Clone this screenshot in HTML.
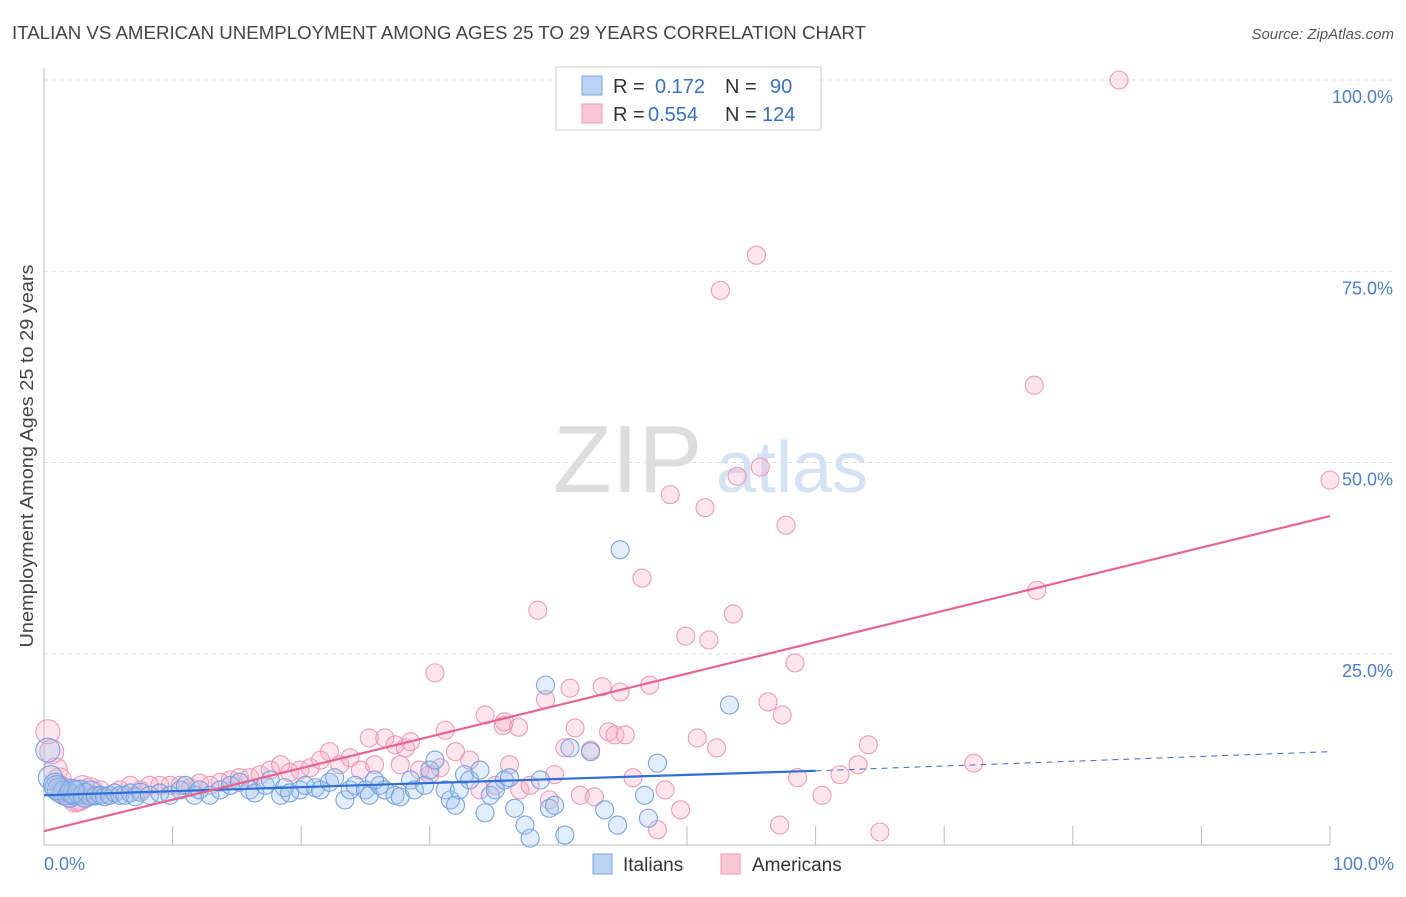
<!DOCTYPE html>
<html><head><meta charset="utf-8"><style>
body{margin:0;background:#fff;font-family:"Liberation Sans",sans-serif}
svg text{font-family:"Liberation Sans",sans-serif}
</style></head><body>
<svg id="c" width="1406" height="892" xmlns="http://www.w3.org/2000/svg">
<text x="12" y="39" font-size="18" fill="#444" textLength="854" lengthAdjust="spacingAndGlyphs">ITALIAN VS AMERICAN UNEMPLOYMENT AMONG AGES 25 TO 29 YEARS CORRELATION CHART</text>
<text x="1394" y="39" font-size="15" fill="#555" font-style="italic" text-anchor="end">Source: ZipAtlas.com</text>
<g>
<text x="553" y="492" font-size="96" fill="#ddd" font-family="Liberation Serif">ZIP</text>
<text x="716" y="492" font-size="72" fill="#d3e2f4">atlas</text>
</g>
<g id="grid"></g>
<line x1="44" y1="68" x2="44" y2="845" stroke="#bbb"/>
<line x1="44" y1="845" x2="1330" y2="845" stroke="#bbb"/>
<text x="33" y="456" font-size="18" fill="#444" text-anchor="middle" textLength="383" lengthAdjust="spacingAndGlyphs" transform="rotate(-90 33 456)">Unemployment Among Ages 25 to 29 years</text>
<text x="44" y="870" font-size="18" fill="#4a7fd4">0.0%</text>
<text x="1394" y="870" font-size="18" fill="#4a7fd4" text-anchor="end">100.0%</text>
<g id="pts"></g>
<g id="lines"></g>
<g>
<rect x="556" y="67" width="265" height="63" fill="#fff" stroke="#ccc"/>
<rect x="582" y="76" width="20" height="19" fill="#b9d3f5" stroke="#7aa5e0"/>
<text x="613" y="93" font-size="20" fill="#333">R =</text>
<text x="655" y="93" font-size="20" fill="#3570d0">0.172</text>
<text x="725" y="93" font-size="20" fill="#333">N =</text>
<text x="770" y="93" font-size="20" fill="#3570d0">90</text>
<rect x="582" y="104" width="20" height="19" fill="#f9c6d5" stroke="#e99ab3"/>
<text x="613" y="121" font-size="20" fill="#333">R =</text>
<text x="648" y="121" font-size="20" fill="#3570d0">0.554</text>
<text x="725" y="121" font-size="20" fill="#333">N =</text>
<text x="762" y="121" font-size="20" fill="#3570d0">124</text>
</g>
<g>
<rect x="593" y="854" width="19" height="20" fill="#b9d3f5" stroke="#7aa5e0"/>
<text x="623" y="871" font-size="19" fill="#333">Italians</text>
<rect x="721" y="854" width="19" height="20" fill="#f9c6d5" stroke="#e99ab3"/>
<text x="752" y="871" font-size="19" fill="#333">Americans</text>
</g>
</svg>
<script>
const yTicks=[25,50,75,100];
const yTickLabels=["25.0%","50.0%","75.0%","100.0%"];
const xTicks=[0,10,20,30,40,50,60,70,80,90,100];
const itX=[0.3,0.5,0.9,1.2,1.6,2.0,2.4,2.8,3.2,3.6,4.0,4.4,4.7,5.1,5.5,5.9,6.3,6.7,7.1,7.5,8.2,9.0,9.8,10.6,11.0,11.7,12.1,12.9,13.7,14.5,15.2,16.0,16.4,17.2,17.6,18.4,18.7,19.1,19.9,20.3,21.1,21.5,22.2,22.6,23.4,23.8,24.2,25.0,25.3,26.1,26.5,27.3,27.7,28.5,28.8,29.6,30.0,30.4,31.2,31.6,32.0,32.7,33.1,33.9,34.3,34.7,35.1,35.8,36.2,36.6,37.4,37.8,39.0,39.3,39.7,40.5,40.9,42.5,43.6,44.6,44.8,46.7,47.0,47.7,53.3,38.6,32.3,25.7,1.0,2.2];
const itY=[12.4,8.8,7.8,7.2,6.8,6.5,6.8,6.9,6.5,6.8,6.4,6.5,6.3,6.5,6.8,6.5,6.5,6.8,6.3,6.9,6.5,6.8,6.5,7.2,7.8,6.5,7.2,6.5,7.2,7.8,8.2,7.2,6.8,7.8,8.5,6.5,7.5,6.8,7.2,7.8,7.5,7.2,8.2,8.8,5.9,7.2,7.8,7.2,6.5,7.8,7.2,6.5,6.3,8.5,7.2,7.8,9.8,11.1,7.2,5.9,5.2,9.2,8.5,9.8,4.2,6.5,7.2,8.5,8.8,4.8,2.6,0.9,20.9,4.8,5.2,1.3,12.7,12.2,4.6,2.6,38.6,6.5,3.5,10.7,18.3,8.5,7.2,8.5,7.5,7.0];
const amX=[0.3,0.6,0.9,1.2,1.6,2.0,2.4,2.8,3.2,3.6,4.0,4.4,5.1,5.9,6.7,7.5,8.2,9.0,9.8,10.6,11.4,12.1,12.9,13.7,14.5,15.2,16.0,16.8,17.6,18.4,19.1,19.9,20.7,21.5,22.2,23.0,23.8,24.6,25.3,25.7,26.5,27.3,27.7,28.1,28.5,29.2,30.0,30.8,31.2,32.0,33.1,33.9,34.3,35.1,35.8,36.2,36.9,37.0,37.8,38.4,39.0,39.3,39.7,40.5,40.9,41.3,41.7,42.5,42.8,43.4,43.9,44.4,44.8,45.2,45.8,46.5,47.1,47.7,48.3,48.7,49.5,49.9,50.8,51.4,51.7,52.3,52.6,53.6,53.9,55.4,55.7,56.3,57.2,57.4,57.7,58.4,58.6,60.5,61.9,63.3,64.1,65.0,72.3,77.0,77.2,83.6,100,30.4,35.7,1.4,2.6,3.0];
const amY=[14.8,12.2,9.8,8.5,7.2,6.5,5.9,6.1,6.5,7.2,6.5,7.2,6.5,7.2,7.8,7.2,7.8,7.8,7.8,7.8,7.5,8.1,7.8,8.2,8.5,8.8,8.8,9.2,9.8,10.5,9.5,9.8,10.1,11.1,12.2,10.5,11.4,9.8,14.0,10.5,14.0,13.1,10.5,12.7,13.5,9.8,9.2,10.1,15.0,12.2,11.1,7.2,17.0,7.8,16.1,10.5,15.4,7.2,7.8,30.7,19.0,5.9,9.2,12.7,20.5,15.3,6.5,12.4,6.3,20.7,14.8,14.4,20.0,14.4,8.8,34.9,20.9,2.0,7.2,45.8,4.6,27.3,14.0,44.1,26.8,12.7,72.5,30.2,48.2,77.1,49.4,18.7,2.6,17.0,41.8,23.8,8.8,6.5,9.2,10.5,13.1,1.7,10.7,60.1,33.3,100,47.7,22.5,15.6,7.0,6.0,7.5];
const itTrend=[6.5,9.7,12.2];
const amTrend=[1.8,43.0];
const NS="http://www.w3.org/2000/svg";
const X=v=>44+v*12.86, Y=v=>845-v*7.65;
function mk(t,a,p){const e=document.createElementNS(NS,t);for(const k in a)e.setAttribute(k,a[k]);p.appendChild(e);return e;}
const grid=document.getElementById('grid');
yTicks.forEach((t,i)=>{
 const l=mk('line',{x1:44,x2:1392,y1:Y(t),y2:Y(t),stroke:'#ddd','stroke-dasharray':'4,4'},grid);
 
 
 const tx=mk('text',{x:1393,y:Y(t)+23,'font-size':18,fill:'#4a7fd4','text-anchor':'end'},grid);
 tx.textContent=yTickLabels[i];
 
 
});
xTicks.forEach(t=>{
 const l=mk('line',{x1:X(t),x2:X(t),y1:826,y2:845,stroke:'#bbb'},grid);
 
 
});
const pts=document.getElementById('pts');
amX.forEach((x,i)=>{
 const c=mk('circle',{cx:X(x),cy:Y(amY[i]),r:x<4?12:9,fill:'rgba(246,170,196,0.3)',stroke:'#ef9ab6','stroke-width':1.1},pts);
 
 
});
itX.forEach((x,i)=>{
 const c=mk('circle',{cx:X(x),cy:Y(itY[i]),r:x<4?12:9,fill:'rgba(160,196,240,0.3)',stroke:'#78a3e2','stroke-width':1.1},pts);
 
 
});
const lines=document.getElementById('lines');
let l1=mk('line',{x1:X(0),y1:Y(itTrend[0]),x2:X(60),y2:Y(itTrend[1]),stroke:'#2f6fd6','stroke-width':2.2},lines);


let l2=mk('line',{x1:X(60),y1:Y(itTrend[1]),x2:X(100),y2:Y(itTrend[2]),stroke:'#2f6fd6','stroke-width':1,'stroke-dasharray':'6,5'},lines);


let l3=mk('line',{x1:X(0),y1:Y(amTrend[0]),x2:X(100),y2:Y(amTrend[1]),stroke:'#e8648f','stroke-width':2.2},lines);


</script>
</body></html>
